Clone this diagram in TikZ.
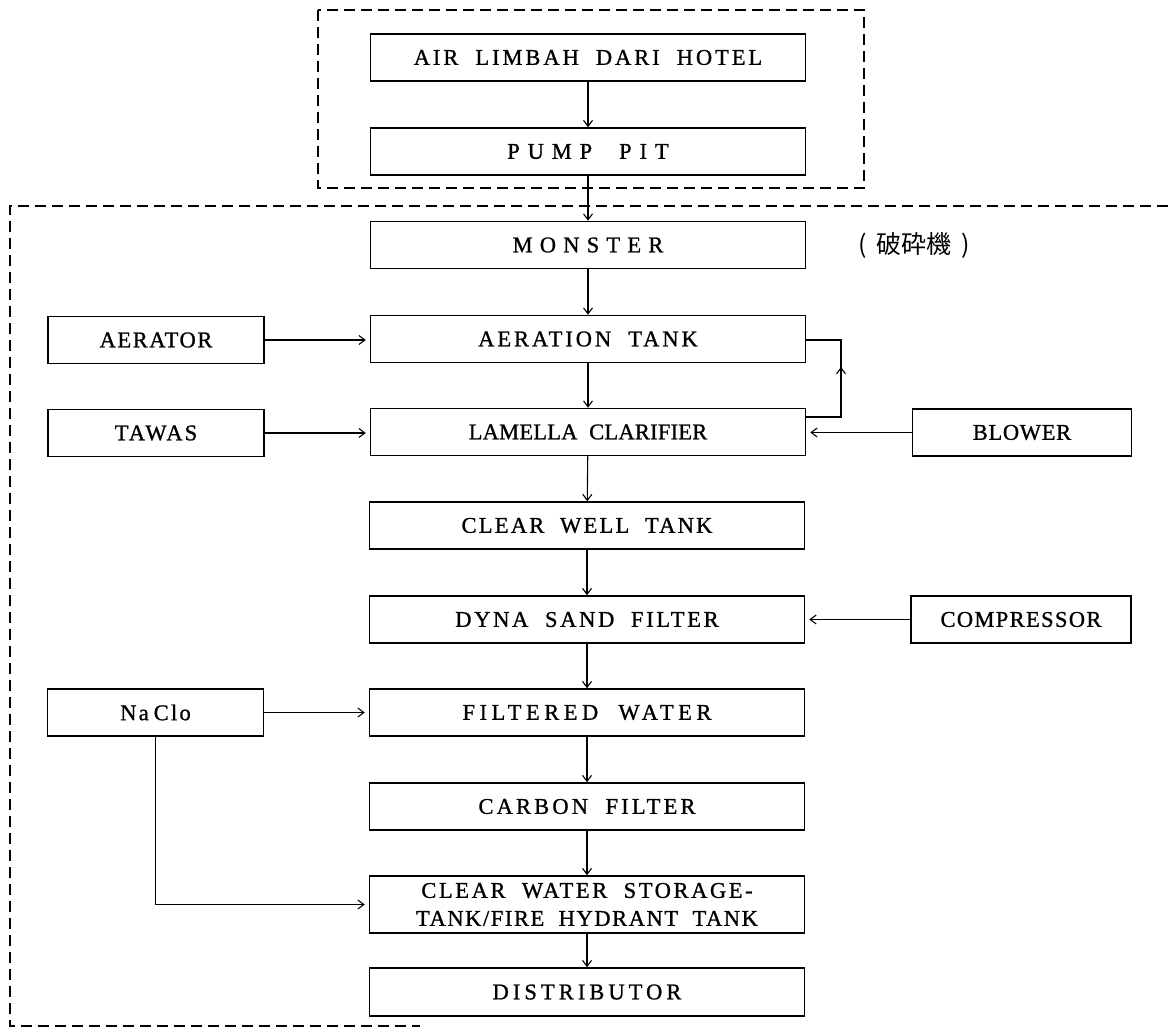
\documentclass[tikz,border=0pt]{standalone}
\usepackage{fontspec}
\setmainfont{Liberation Serif}[WordSpace=2, FakeBold=1]
\newfontfamily\cjk{Noto Sans CJK JP}
\usetikzlibrary{arrows.meta}
\newcommand\lsp[2]{{\addfontfeature{LetterSpace=#1}#2}}
\begin{document}
\begin{tikzpicture}[x=1pt,y=-1pt,
  box/.style={draw, line width=1.5pt, inner sep=0pt, minimum height=47pt,
    font=\fontsize{22.5}{30}\selectfont, align=center},
  mainbox/.style={box, minimum width=435pt},
  sidebox/.style={box, minimum width=216pt},
  arr/.style={line width=1.1pt, -{Straight Barb[length=6pt,width=9pt]}},
  harr/.style={arr, shorten >=4pt},
  plain/.style={line width=1.1pt},
  frame/.style={line width=1.3pt, dash pattern=on 11pt off 6pt}]
\useasboundingbox (0,0) rectangle (1168,1035);

% dashed frames
\draw[frame] (318,10) rectangle (864,188);
\draw[frame] (1168,206) -- (10,206) -- (10,1026) -- (420,1026);

% main column
\node[mainbox] (air) at (588,57.5) {\lsp{13}{AIR LIMBAH DARI HOTEL}};
\node[mainbox] (pump) at (588,151.5) {\lsp{35}{PUMP PIT}};
\node[mainbox] (monster) at (588,245) {\lsp{32}{MONSTER}};
\node[mainbox] (aeration) at (588,339) {\lsp{13}{AERATION TANK}};
\node[mainbox] (lamella) at (588,432) {\lsp{1}{LAMELLA CLARIFIER}};
\node[mainbox] (clearwell) at (587,525.5) {\lsp{10}{CLEAR WELL TANK}};
\node[mainbox] (dyna) at (587,619.5) {\lsp{12}{DYNA SAND FILTER}};
\node[mainbox] (filtered) at (587,712.5) {\lsp{20}{FILTERED WATER}};
\node[mainbox] (carbon) at (587,806.5) {\lsp{14}{CARBON FILTER}};
\node[mainbox, minimum height=57pt] (clearwater) at (587,904.5)
  {\lsp{11.5}{CLEAR WATER STORAGE-}\\[-2pt]\lsp{7}{TANK/FIRE HYDRANT TANK}};
\node[mainbox, minimum height=48pt] (distributor) at (587,992) {\lsp{18}{DISTRIBUTOR}};

% side boxes
\node[sidebox] (aerator) at (156,340) {\lsp{7}{AERATOR}};
\node[sidebox] (tawas) at (156,433) {\lsp{9.5}{TAWAS}};
\node[sidebox] (naclo) at (155.5,712.5) {\lsp{10}{Na\hspace{5pt}Clo}};
\node[sidebox, minimum width=219pt] (blower) at (1022,432.5) {\lsp{3}{BLOWER}};
\node[sidebox, minimum width=220pt] (compressor) at (1021,619.5) {\lsp{6}{COMPRESSOR}};

% label
\node[font=\cjk\fontsize{25}{25}\selectfont, inner sep=0pt] (jp) at (914,245)
  {(\hspace{10pt}破砕機\hspace{10pt})};

% vertical flow
\draw[arr] (air) -- (pump);
\draw[arr] (pump) -- (monster);
\draw[arr] (monster) -- (aeration);
\draw[arr] (aeration) -- (lamella);
\draw[arr] (lamella) -- (clearwell);
\draw[arr] (clearwell) -- (dyna);
\draw[arr] (dyna) -- (filtered);
\draw[arr] (filtered) -- (carbon);
\draw[arr] (carbon) -- (clearwater);
\draw[arr] (clearwater) -- (distributor);

% side inputs
\draw[harr] (aerator.east) -- (aerator.east -| aeration.west);
\draw[harr] (tawas.east) -- (tawas.east -| lamella.west);
\draw[harr] (blower.west) -- (blower.west -| lamella.east);
\draw[harr] (compressor.west) -- (compressor.west -| dyna.east);
\draw[harr] (naclo.east) -- (naclo.east -| filtered.west);
\draw[harr] (naclo.south) |- (clearwater.west);

% return loop lamella -> aeration
\coordinate (loopA) at (841,417);
\coordinate (loopM) at (841,367);
\coordinate (loopB) at (841,340);
\draw[plain] ([yshift=15pt]lamella.east) -- (loopA) -- (loopB) -- (aeration.east |- loopB);
\draw[arr] (loopA) -- (loopM);
\end{tikzpicture}
\end{document}
